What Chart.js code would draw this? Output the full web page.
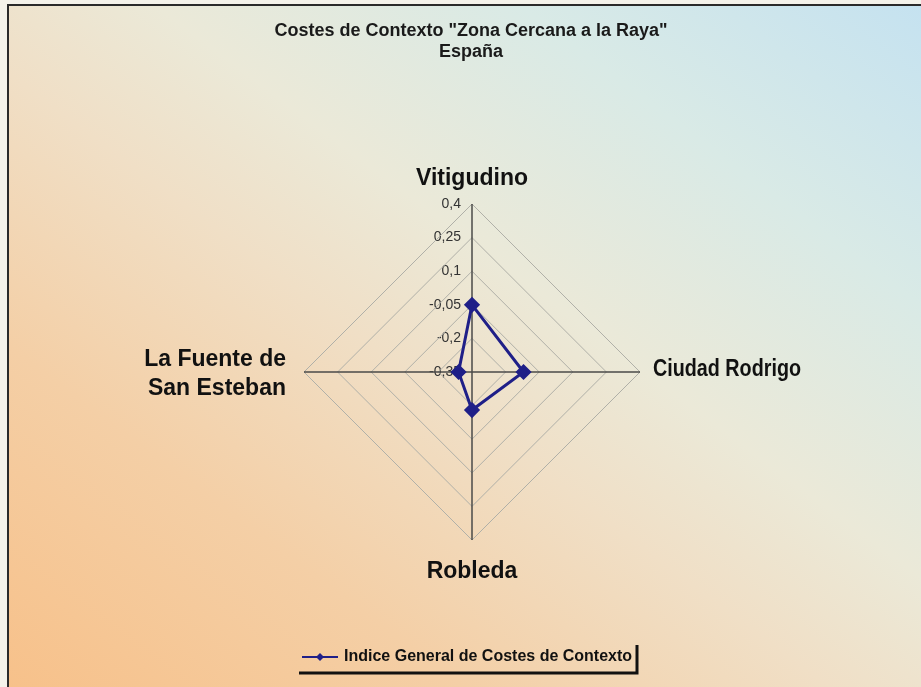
<!DOCTYPE html>
<html>
<head>
<meta charset="utf-8">
<script src="https://cdn.jsdelivr.net/npm/chart.js@4"></script>
<style>
  html, body { margin: 0; padding: 0; background: #f4f2ea; }
  #chart { display: block; }
</style>
</head>
<body>
<canvas id="chart" width="921" height="687"></canvas>
<script>
// Chart values
const titleLines = ['Costes de Contexto "Zona Cercana a la Raya"', "España"];
const categories = [["Vitigudino"], ["Ciudad Rodrigo"], ["Robleda"], ["La Fuente de", "San Esteban"]];
const seriesLabel = "Indice General de Costes de Contexto";
const seriesValues = [-0.05, -0.12, -0.18, -0.29];
const tickValues = [-0.35, -0.2, -0.05, 0.1, 0.25, 0.4];
const tickLabels = ["-0,35", "-0,2", "-0,05", "0,1", "0,25", "0,4"];

const lineColor = "#1f1f88";
const labelFont = "bold 23px 'Liberation Sans', Arial, sans-serif";


// This function paints the diagonal background (orange bottom-left, blue top-right)
// and the dark frame on the top and left edges
function drawBackground(chart) {
  const ctx = chart.ctx;
  const x0 = 8, y0 = 5, w = chart.width - x0, h = chart.height - y0;
  const cx = x0 + w / 2, cy = y0 + h / 2;
  const d = Math.sqrt(w * w + h * h);
  const ux = h / d, uy = -w / d;
  const half = w * h / d;

  ctx.save();
  const grad = ctx.createLinearGradient(cx - ux * half, cy - uy * half, cx + ux * half, cy + uy * half);
  grad.addColorStop(0, "#f7c18a");
  grad.addColorStop(0.25, "#f4cfa6");
  grad.addColorStop(0.45, "#f0dfc6");
  grad.addColorStop(0.58, "#ebe9d8");
  grad.addColorStop(0.78, "#d9eae6");
  grad.addColorStop(1, "#c5e2f0");
  ctx.fillStyle = grad;
  ctx.fillRect(x0, y0, w, h);

  ctx.strokeStyle = "#2a2a2a";
  ctx.lineWidth = 2;
  ctx.beginPath();
  ctx.moveTo(x0, chart.height);
  ctx.lineTo(x0, y0);
  ctx.lineTo(chart.width, y0);
  ctx.stroke();
  ctx.restore();
}


// This function writes the tick labels to the left of the vertical axis, so
// the axis lines and the series are painted on top of them
function drawTicks(chart) {
  const ctx = chart.ctx;
  const scale = chart.scales.r;
  ctx.save();
  ctx.font = "14px 'Liberation Sans', Arial, sans-serif";
  ctx.fillStyle = "#333333";
  ctx.textAlign = "right";
  ctx.textBaseline = "middle";
  tickValues.forEach((value, i) => {
    const pos = scale.getPointPositionForValue(0, value);
    ctx.fillText(tickLabels[i], scale.xCenter - 11, pos.y);
  });
  ctx.restore();
}


// This function writes the category names around the outside of the web;
// long names are squeezed a little, like in the original picture
function drawPointLabels(chart) {
  const ctx = chart.ctx;
  const scale = chart.scales.r;
  const lineHeight = 28.5;
  const capHeight = 16.5;
  const maxWidth = 148;
  ctx.save();
  ctx.font = labelFont;
  ctx.fillStyle = "#111111";
  ctx.textBaseline = "alphabetic";

  categories.forEach((lines, i) => {
    const edge = scale.getPointPosition(i, scale.drawingArea);
    const dx = edge.x - scale.xCenter;
    const dy = edge.y - scale.yCenter;
    let x = edge.x, y;

    if (Math.abs(dx) < 1) {
      ctx.textAlign = "center";
      if (dy < 0) {
        y = edge.y - 19 - (lines.length - 1) * lineHeight;
      } else {
        y = edge.y + 21 + capHeight;
      }
    } else {
      ctx.textAlign = dx > 0 ? "left" : "right";
      x = dx > 0 ? edge.x + 13 : edge.x - 18;
      y = edge.y - (lines.length - 1) * lineHeight / 2 + capHeight / 2 - (lines.length === 1 ? 4 : 0);
    }

    lines.forEach((text, j) => {
      ctx.fillText(text, x, y + j * lineHeight, maxWidth);
    });
  });
  ctx.restore();
}


// This function writes the two line title at the top of the picture
function drawTitle(chart) {
  const ctx = chart.ctx;
  ctx.save();
  ctx.font = "bold 18px 'Liberation Sans', Arial, sans-serif";
  ctx.fillStyle = "#1a1a1a";
  ctx.textAlign = "center";
  ctx.textBaseline = "middle";
  titleLines.forEach((text, i) => {
    ctx.fillText(text, 471, 31 + i * 21);
  });
  ctx.restore();
}


// This function draws the legend entry with its dark shadow on the right and bottom
function drawLegend(chart) {
  const ctx = chart.ctx;
  const dataset = chart.data.datasets[0];
  const y = 657;
  ctx.save();

  ctx.strokeStyle = "#111111";
  ctx.lineWidth = 3;
  ctx.beginPath();
  ctx.moveTo(299, 673);
  ctx.lineTo(637, 673);
  ctx.lineTo(637, 645);
  ctx.stroke();

  ctx.strokeStyle = dataset.borderColor;
  ctx.lineWidth = 2;
  ctx.beginPath();
  ctx.moveTo(302, y);
  ctx.lineTo(338, y);
  ctx.stroke();

  ctx.fillStyle = dataset.borderColor;
  ctx.beginPath();
  ctx.moveTo(320, y - 4);
  ctx.lineTo(324, y);
  ctx.lineTo(320, y + 4);
  ctx.lineTo(316, y);
  ctx.closePath();
  ctx.fill();

  ctx.font = "bold 16px 'Liberation Sans', Arial, sans-serif";
  ctx.fillStyle = "#111111";
  ctx.textAlign = "left";
  ctx.textBaseline = "middle";
  ctx.fillText(dataset.label, 344, y);
  ctx.restore();
}


const decorations = {
  id: "decorations",
  beforeDraw(chart) {
    drawBackground(chart);
    drawTicks(chart);
  },
  afterDraw(chart) {
    drawPointLabels(chart);
    drawTitle(chart);
    drawLegend(chart);
  }
};


const data = {
  labels: categories,
  datasets: [{
    label: seriesLabel,
    data: seriesValues,
    fill: false,
    borderColor: lineColor,
    backgroundColor: lineColor,
    borderWidth: 3,
    pointStyle: "rectRot",
    pointRadius: 6,
    pointBackgroundColor: lineColor,
    pointBorderColor: lineColor,
    tension: 0
  }]
};

const config = {
  type: "radar",
  data: data,
  options: {
    responsive: false,
    animation: false,
    devicePixelRatio: 1,
    layout: {
      // puts the centre of the web at (472, 372) with a radius of 168
      padding: { left: 304, right: 281, top: 204, bottom: 147 }
    },
    plugins: {
      legend: { display: false },
      title: { display: false },
      tooltip: { enabled: false }
    },
    scales: {
      r: {
        min: -0.35,
        max: 0.4,
        startAngle: 0,
        afterBuildTicks: (scale) => {
          scale.ticks = tickValues.map((v) => ({ value: v }));
        },
        ticks: { display: false },
        pointLabels: { display: false },
        grid: {
          circular: false,
          color: "#b0b0a8",
          lineWidth: 1
        },
        angleLines: {
          display: true,
          color: "#4a4a48",
          lineWidth: 1.5
        }
      }
    }
  },
  plugins: [decorations]
};

window.radarChart = new Chart(document.getElementById("chart"), config);
</script>
</body>
</html>
